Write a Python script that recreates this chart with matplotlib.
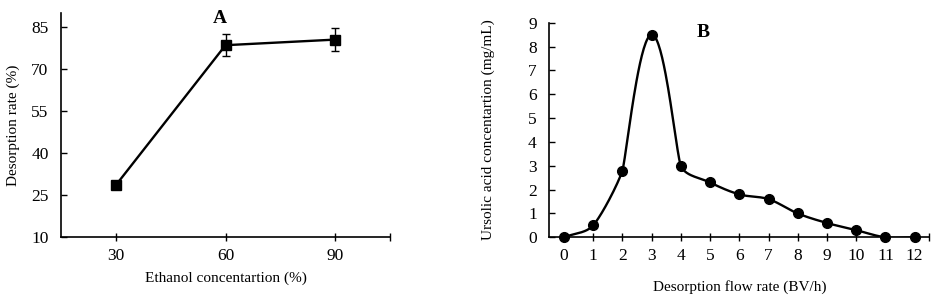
import numpy as np
import matplotlib
matplotlib.use("Agg")
import matplotlib.pyplot as plt

plt.rcParams['font.family'] = ['Liberation Serif', 'DejaVu Serif']

# Panel A data
ethanol = [30, 60, 90]
desorption_rate = [28.5, 78.5, 80.5]
desorption_err = [0.0, 4.0, 4.0]

# Panel B data
flow_rate = [0, 1, 2, 3, 4, 5, 6, 7, 8, 9, 10, 11, 12]
ursolic_conc = [0.0, 0.5, 2.8, 8.5, 3.0, 2.3, 1.8, 1.6, 1.0, 0.6, 0.3, 0.0, 0.0]


def smooth_curve(x, y, sx=1.0, sy=1.0, cap=18.0, n=40):
    # spreadsheet-like smoothed line: Bezier segments with handles along the
    # neighbour chord; handle length = min(segment/3, cap) in display pixels
    P = np.column_stack([np.asarray(x, float) * sx, np.asarray(y, float) * sy])
    m = len(P)
    T = np.zeros_like(P)
    for i in range(m):
        a = P[max(i - 1, 0)]
        b = P[min(i + 1, m - 1)]
        d = b - a
        T[i] = d / np.linalg.norm(d)
    out = []
    t = np.linspace(0, 1, n)[:, None]
    for i in range(m - 1):
        p1, p2 = P[i], P[i + 1]
        L = np.linalg.norm(p2 - p1)
        h = min(L / 3.0, cap)
        c1 = p1 + T[i] * h
        c2 = p2 - T[i + 1] * h
        seg = (1 - t) ** 3 * p1 + 3 * (1 - t) ** 2 * t * c1 + 3 * (1 - t) * t ** 2 * c2 + t ** 3 * p2
        out.append(seg)
    out = np.vstack(out)
    return out[:, 0] / sx, out[:, 1] / sy


fig = plt.figure(figsize=(9.35, 3.02), dpi=100)

fs = 11
tfs = 12.5
# ---------- Panel A ----------
axA = fig.add_axes([61 / 935, 1 - 237 / 302, (390 - 61) / 935, (237 - 13) / 302])
axA.errorbar(ethanol, desorption_rate, yerr=desorption_err, color='black', lw=1.7,
             marker='s', markersize=7, capsize=3, elinewidth=1, capthick=1)
axA.set_xlim(15, 105)
axA.set_ylim(10, 90)
axA.set_xticks([30, 60, 90, 105])
axA.set_xticklabels(['30', '60', '90', ''])
axA.set_yticks([10, 25, 40, 55, 70, 85])
axA.tick_params(axis='x', direction='inout', length=6, width=1, labelsize=tfs, pad=5)
axA.tick_params(axis='y', direction='in', length=4, width=1, labelsize=tfs, pad=9)
for s in ['top', 'right']:
    axA.spines[s].set_visible(False)
for s in ['left', 'bottom']:
    axA.spines[s].set_linewidth(1.2)
axA.set_xlabel('Ethanol concentartion (%)', fontsize=fs)
axA.set_ylabel('Desorption rate (%)', fontsize=fs)
axA.xaxis.set_label_coords(0.5, -0.152)
axA.yaxis.set_label_coords(-0.125, 0.5)
axA.text(58.5, 88.2, 'A', fontsize=14, fontweight='bold', ha='center', va='center')

# ---------- Panel B ----------
bx0, bx1, by0, by1 = 549.3, 929.3, 237.3, 22.7
axB = fig.add_axes([bx0 / 935, 1 - by0 / 302, (bx1 - bx0) / 935, (by0 - by1) / 302])
pxu = (bx1 - bx0) / 13.0
pyu = (by0 - by1) / 9.0
cx, cy = smooth_curve(flow_rate, ursolic_conc, sx=pxu, sy=pyu, cap=13.0)
axB.plot(cx, cy, color='black', lw=1.7)
axB.plot(flow_rate, ursolic_conc, 'o', color='black', markersize=7, clip_on=False)
axB.set_xlim(-0.5, 12.5)
axB.set_ylim(0, 9)
axB.set_xticks(list(range(0, 13)) + [12.5])
axB.set_xticklabels([str(v) for v in flow_rate] + [''])
axB.set_yticks(range(0, 10))
axB.tick_params(axis='x', direction='inout', length=6, width=1, labelsize=tfs, pad=5)
axB.tick_params(axis='y', direction='in', length=4, width=1, labelsize=tfs, pad=9)
for s in ['top', 'right']:
    axB.spines[s].set_visible(False)
for s in ['left', 'bottom']:
    axB.spines[s].set_linewidth(1.2)
axB.set_xlabel('Desorption flow rate (BV/h)', fontsize=fs)
axB.set_ylabel('Ursolic acid concentartion (mg/mL)', fontsize=fs)
axB.xaxis.set_label_coords(0.5, -0.20)
axB.yaxis.set_label_coords(-0.143, 0.5)
axB.text(4.76, 8.57, 'B', fontsize=14, fontweight='bold', ha='center', va='center')

fig.savefig('out.png', dpi=100)
